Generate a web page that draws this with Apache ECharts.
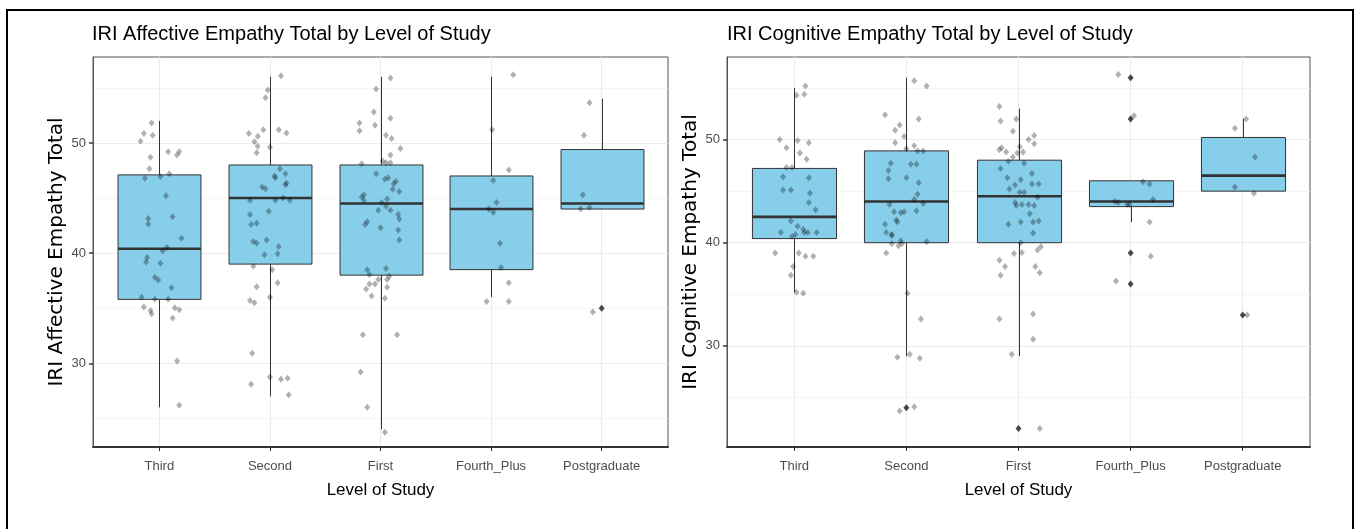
<!DOCTYPE html>
<html><head><meta charset="utf-8">
<script src="https://cdn.jsdelivr.net/npm/echarts@6/dist/echarts.min.js"></script>
<style>html,body{margin:0;padding:0;background:#fff}#c{width:1361px;height:529px}</style>
</head><body><div id="c"></div>
<script>
// ---------------- DATA ----------------
const categories = ['Third', 'Second', 'First', 'Fourth_Plus', 'Postgraduate'];
const yTicks = [30, 40, 50];

// Affective panel: box statistics
const affLow  = [26, 27, 24, 36, 44];
const affQ1   = [35.8, 39, 38, 38.5, 44];
const affMed  = [40.4, 45, 44.5, 44, 44.5];
const affQ3   = [47.1, 48, 48, 47, 49.4];
const affHigh = [52, 56, 56, 56, 54];
const affOutliers = [[4, 35]];

// Affective panel: jittered points [offset from category, value]
const affThird = [[-0.07,51.8],[-0.14,50.85],[-0.06,50.7],[-0.17,50.15],[0.08,49.2],[0.18,49.2],[0.16,48.9],[-0.08,48.7],[-0.09,47.65],[0.01,46.95],[0.09,47.2],[-0.13,46.8],[0.06,45.2],[-0.10,43.15],[-0.10,42.65],[0.12,43.3],[0.20,41.35],[0.03,40.2],[0.07,40.5],[-0.11,39.6],[-0.12,39.2],[0.01,39.07],[-0.04,37.8],[-0.01,37.55],[0.11,36.85],[-0.16,36.0],[-0.04,35.8],[0.08,35.8],[-0.14,35.1],[-0.08,34.8],[-0.07,34.5],[0.14,35.05],[0.18,34.85],[0.12,34.1],[0.16,30.2],[0.18,26.2]];
const affSecond = [[0.10,56.1],[-0.02,54.8],[-0.04,54.1],[-0.19,50.85],[-0.11,50.6],[-0.06,51.2],[0.08,51.2],[0.15,50.9],[-0.14,50.1],[-0.11,49.7],[-0.12,49.1],[0.00,49.6],[0.09,47.65],[0.04,47.0],[0.05,46.85],[0.14,47.2],[0.15,46.35],[0.14,46.2],[-0.07,46.0],[-0.04,45.85],[0.12,45.0],[0.18,44.8],[0.05,44.8],[-0.18,44.8],[-0.18,43.5],[-0.01,43.8],[-0.17,42.6],[-0.12,42.7],[-0.15,41.05],[-0.12,40.9],[-0.03,41.2],[0.08,40.6],[0.07,39.95],[-0.05,39.85],[-0.15,38.8],[0.02,38.5],[-0.12,36.95],[0.07,37.3],[-0.18,35.7],[-0.14,35.5],[0.00,36.0],[-0.16,30.9],[0.00,28.75],[0.10,28.55],[0.16,28.65],[-0.17,28.1],[0.17,27.15]];
const affFirst = [[-0.04,54.9],[-0.06,52.8],[-0.05,51.6],[-0.19,51.8],[-0.19,51.1],[0.09,55.9],[0.09,52.25],[0.05,50.7],[0.10,50.4],[0.18,49.5],[0.09,48.9],[-0.17,48.1],[0.02,48.35],[0.05,48.2],[0.09,48.2],[-0.04,47.2],[0.04,46.7],[0.07,46.85],[0.14,46.5],[0.12,46.3],[0.11,45.8],[0.17,45.6],[-0.17,45.1],[-0.15,45.3],[-0.15,44.8],[0.01,44.6],[0.06,44.9],[0.05,44.25],[0.09,43.9],[-0.02,43.9],[0.16,43.5],[0.17,43.1],[-0.12,42.85],[-0.14,42.6],[0.00,42.3],[0.16,42.1],[0.17,41.2],[0.05,38.6],[0.08,37.9],[0.06,37.6],[0.06,36.9],[0.04,35.9],[0.15,32.6],[0.04,23.75],[-0.12,38.5],[-0.10,38.05],[-0.10,37.2],[-0.05,37.2],[-0.02,37.6],[-0.13,36.75],[-0.08,36.1],[-0.16,32.6],[-0.18,29.2],[-0.12,26.0]];
const affFourth = [[0.20,56.2],[0.01,51.2],[0.16,47.55],[0.02,46.6],[0.05,44.6],[-0.02,44.0],[0.02,43.7],[0.08,40.9],[0.09,38.7],[0.16,37.3],[-0.04,35.6],[0.16,35.6]];
const affPost = [[-0.11,53.65],[-0.16,50.7],[-0.17,45.3],[-0.19,44.0],[-0.11,44.15],[-0.08,34.65]];

// Cognitive panel: box statistics
const cogLow  = [35.2, 29, 29, 42, 45];
const cogQ1   = [40.4, 40, 40, 43.5, 45];
const cogMed  = [42.5, 44, 44.5, 44, 46.5];
const cogQ3   = [47.2, 48.9, 48, 46, 50.2];
const cogHigh = [55, 56, 53, 46, 52];
const cogOutliers = [[1, 24], [2, 22], [3, 56], [3, 52], [3, 39], [3, 36], [4, 33]];

// Cognitive panel: jittered points [offset from category, value]
const cogThird = [[0.10,55.2],[0.02,54.3],[0.09,54.4],[-0.13,50.0],[0.03,49.9],[0.13,49.7],[-0.07,49.2],[0.05,48.7],[0.11,48.1],[-0.07,47.3],[-0.02,47.3],[-0.10,46.4],[0.13,46.3],[-0.10,45.1],[-0.03,45.1],[0.14,44.8],[0.13,43.9],[0.19,43.2],[-0.03,42.1],[0.03,41.6],[0.08,41.3],[0.09,41.0],[0.12,41.0],[0.20,41.0],[-0.12,41.0],[0.01,40.8],[-0.02,40.6],[-0.17,39.0],[0.04,39.0],[0.10,38.7],[0.17,38.7],[-0.01,37.7],[-0.03,36.85],[0.02,35.2],[0.08,35.1]];
const cogSecond = [[0.07,55.7],[0.18,55.2],[-0.19,52.4],[0.11,52.0],[-0.06,51.4],[-0.10,50.9],[-0.02,50.3],[-0.10,49.7],[0.00,49.1],[0.07,49.4],[0.10,48.9],[0.15,48.9],[-0.14,47.7],[0.04,47.6],[0.09,47.6],[-0.16,47.0],[-0.16,46.2],[0.00,46.3],[0.11,45.8],[0.10,44.7],[0.07,44.2],[0.15,43.8],[-0.15,43.7],[-0.11,43.0],[-0.05,42.9],[-0.02,43.0],[0.09,43.1],[-0.09,42.2],[-0.08,42.0],[-0.19,41.8],[-0.18,41.0],[-0.13,40.8],[-0.13,40.7],[-0.05,40.2],[0.18,40.1],[-0.13,39.9],[-0.07,39.7],[-0.04,39.9],[-0.18,39.0],[0.01,35.1],[0.13,32.6],[-0.08,28.9],[0.03,29.2],[0.12,28.8],[-0.06,23.7],[0.07,24.1]];
const cogFirst = [[-0.17,53.2],[-0.16,51.8],[-0.02,52.0],[-0.05,50.8],[0.14,50.4],[0.09,50.0],[0.14,49.6],[-0.17,49.0],[-0.15,49.2],[-0.11,48.8],[0.01,49.3],[-0.05,48.3],[-0.01,48.7],[0.04,48.8],[-0.09,47.9],[0.05,47.7],[-0.16,47.2],[-0.10,46.3],[-0.03,45.6],[0.02,46.1],[0.12,46.7],[0.12,45.7],[0.18,45.7],[-0.08,45.2],[0.01,44.9],[0.05,44.9],[0.17,44.4],[-0.03,43.9],[0.03,43.7],[-0.02,43.6],[0.09,43.7],[0.14,43.6],[0.10,42.8],[-0.09,41.8],[0.02,42.0],[0.13,42.0],[0.18,42.1],[0.13,40.95],[0.02,40.0],[-0.17,38.3],[-0.04,38.95],[0.03,39.05],[0.17,39.3],[0.20,39.6],[-0.12,37.7],[-0.16,36.85],[0.15,37.7],[0.19,37.1],[-0.17,32.6],[0.13,33.1],[0.13,30.65],[-0.06,29.2],[0.19,22.0]];
const cogFourth = [[-0.11,56.3],[0.03,52.3],[0.11,45.9],[0.17,45.7],[-0.14,44.0],[-0.11,43.9],[-0.03,43.7],[-0.01,43.7],[0.20,44.2],[0.17,42.0],[0.18,38.7],[-0.13,36.3]];
const cogPost = [[0.03,52.0],[-0.07,51.1],[0.11,48.3],[-0.07,45.4],[0.10,44.8],[0.04,33.0]];

// ---------------- CHART ----------------
const FONT = '"Liberation Sans", Arial, Helvetica, sans-serif';
const catIdx = categories.map((c, i) => i);

function boxData(lo, q1, med, q3, hi) {
  return categories.map((c, i) => [i, lo[i], q1[i], med[i], q3[i], hi[i]]);
}
function jitterData(groups) {
  const out = [];
  groups.forEach((arr, i) => arr.forEach(p => out.push([i + p[0], p[1]])));
  return out;
}
function renderBox(params, api) {
  const x = api.value(0);
  const pLo = api.coord([x, api.value(1)]);
  const pQ1 = api.coord([x, api.value(2)]);
  const pMed = api.coord([x, api.value(3)]);
  const pQ3 = api.coord([x, api.value(4)]);
  const pHi = api.coord([x, api.value(5)]);
  const w = api.size([0.75, 0])[0];
  const cx = Math.round(pMed[0]) + 0.5;
  return {
    type: 'group',
    children: [
      { type: 'line', shape: { x1: cx, y1: pQ3[1], x2: cx, y2: pHi[1] }, style: { stroke: '#333', lineWidth: 1 } },
      { type: 'line', shape: { x1: cx, y1: pQ1[1], x2: cx, y2: pLo[1] }, style: { stroke: '#333', lineWidth: 1 } },
      { type: 'rect', shape: { x: cx - w / 2, y: pQ3[1], width: w, height: pQ1[1] - pQ3[1] },
        style: { fill: '#87CEEB', stroke: '#333', lineWidth: 1 } },
      { type: 'line', shape: { x1: cx - w / 2, y1: pMed[1], x2: cx + w / 2, y2: pMed[1] },
        style: { stroke: '#333', lineWidth: 2.6 } }
    ]
  };
}

function xAxisCfg(gi) {
  return {
    gridIndex: gi, type: 'value', min: -0.6, max: 4.6,
    name: 'Level of Study', nameLocation: 'middle', nameGap: 35,
    nameTextStyle: { fontFamily: FONT, fontSize: 17, color: '#000' },
    axisLine: { show: true, onZero: false, lineStyle: { color: '#333', width: 2 } },
    axisTick: { show: true, length: 4, customValues: catIdx, lineStyle: { color: '#333' } },
    axisLabel: { customValues: catIdx, margin: 13, fontFamily: FONT, fontSize: 13, color: '#4D4D4D',
      formatter: v => categories[Math.round(v)] },
    splitLine: { show: true, lineStyle: { color: '#EBEBEB', width: 1.2 } }
  };
}
function yAxisCfg(gi, min, max, name) {
  return {
    gridIndex: gi, type: 'value', min: min, max: max,
    name: name, nameLocation: 'middle', nameGap: 26, nameRotate: 90,
    nameTextStyle: { fontFamily: '"DejaVu Sans", sans-serif', fontSize: 20, color: '#000' },
    axisLine: { show: true, onZero: false, lineStyle: { color: '#555', width: 1 } },
    axisTick: { show: true, inside: false, length: 4, customValues: yTicks, lineStyle: { color: '#333', width: 1.5 } },
    axisLabel: { customValues: yTicks, margin: 7, fontFamily: FONT, fontSize: 13, color: '#4D4D4D' },
    splitLine: { show: true, lineStyle: { color: '#EBEBEB', width: 1.2 } },
    minorTick: { show: false, splitNumber: 2 },
    minorSplitLine: { show: true, lineStyle: { color: '#F3F3F3', width: 0.8 } }
  };
}
function panelSeries(gi, lo, q1, med, q3, hi, outliers, groups) {
  return [
    { type: 'custom', xAxisIndex: gi, yAxisIndex: gi, renderItem: renderBox, z: 2,
      data: boxData(lo, q1, med, q3, hi), encode: { x: 0, y: [1, 2, 3, 4, 5] }, silent: true },
    { type: 'scatter', xAxisIndex: gi, yAxisIndex: gi, z: 3, symbol: 'diamond', symbolSize: [6, 7],
      itemStyle: { color: '#1A1A1A' }, data: outliers, silent: true },
    { type: 'scatter', xAxisIndex: gi, yAxisIndex: gi, z: 4, symbol: 'diamond', symbolSize: [6, 7],
      itemStyle: { color: 'rgba(0,0,0,0.38)' }, data: jitterData(groups), silent: true }
  ];
}

const chart = echarts.init(document.getElementById('c'), null, { renderer: 'canvas' });
chart.setOption({
  backgroundColor: '#fff',
  animation: false,
  title: [
    { text: 'IRI Affective Empathy Total by Level of Study', left: 92, top: 24, padding: 0,
      textStyle: { fontFamily: FONT, fontSize: 20, fontWeight: 'normal', color: '#000' } },
    { text: 'IRI Cognitive Empathy Total by Level of Study', left: 727, top: 24, padding: 0,
      textStyle: { fontFamily: FONT, fontSize: 20, fontWeight: 'normal', color: '#000' } }
  ],
  grid: [
    { left: 93, top: 57, width: 575, height: 390, show: true, borderColor: '#555', borderWidth: 1,
      backgroundColor: '#fff', containLabel: false, outerBoundsMode: 'none' },
    { left: 727, top: 57, width: 583, height: 390, show: true, borderColor: '#555', borderWidth: 1,
      backgroundColor: '#fff', containLabel: false, outerBoundsMode: 'none' }
  ],
  xAxis: [xAxisCfg(0), xAxisCfg(1)],
  yAxis: [
    yAxisCfg(0, 22.4, 57.8, 'IRI Affective Empathy Total'),
    yAxisCfg(1, 20.2, 58.0, 'IRI Cognitive Empathy Total')
  ],
  graphic: [
    { type: 'rect', shape: { x: 7, y: 10, width: 1346, height: 530 },
      style: { fill: 'none', stroke: '#000', lineWidth: 2 }, silent: true }
  ],
  series: [
    ...panelSeries(0, affLow, affQ1, affMed, affQ3, affHigh, affOutliers,
      [affThird, affSecond, affFirst, affFourth, affPost]),
    ...panelSeries(1, cogLow, cogQ1, cogMed, cogQ3, cogHigh, cogOutliers,
      [cogThird, cogSecond, cogFirst, cogFourth, cogPost])
  ]
});
</script>
</body></html>
